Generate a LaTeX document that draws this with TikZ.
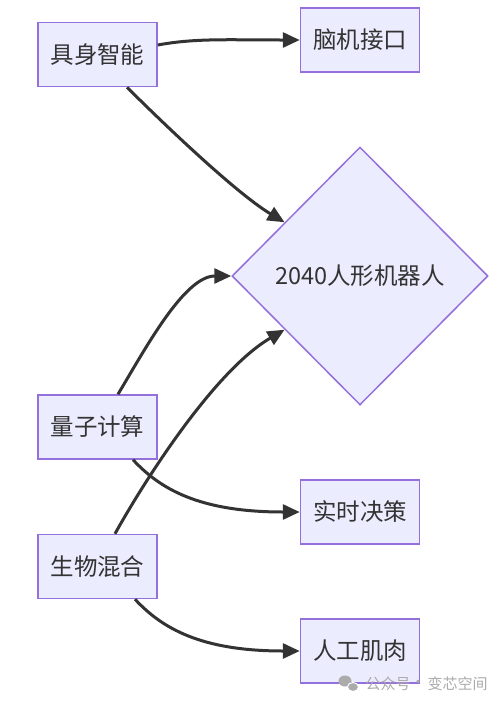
\documentclass[tikz,border=0pt]{standalone}
\usepackage{fontspec}
\setmainfont{Noto Sans CJK SC}
\usetikzlibrary{arrows.meta,shapes.geometric,calc}
\definecolor{nodefill}{HTML}{ECECFF}
\definecolor{nodeline}{HTML}{9370DB}
\definecolor{ink}{HTML}{333333}
\definecolor{wm}{HTML}{ABABAB}
\begin{document}
\begin{tikzpicture}[x=1pt,y=-1pt,
  box/.style={draw=nodeline,fill=nodefill,line width=1.5pt,minimum width=119pt,minimum height=64pt,inner sep=0pt,text=ink,font=\fontsize{23.5}{28}\selectfont},
  decision/.style={shape=diamond,draw=nodeline,fill=nodefill,line width=1.5pt,minimum width=256pt,minimum height=258pt,inner sep=0pt,text=ink,font=\fontsize{23.5}{28}\selectfont},
  link/.style={draw=ink,line width=3pt,-{Triangle[length=17pt,width=15pt]}},
  wmtext/.style={text=wm,inner sep=0pt,font=\fontsize{15}{18}\selectfont}]
\useasboundingbox[fill=white] (0,0) rectangle (503,705);
\node[box] (A) at (97.5,54.5) {具身智能};
\node[box] (B) at (360,40) {脑机接口};
\node[decision] (C) at (360,276) {2040人形机器人};
\node[box] (D) at (97.5,427) {量子计算};
\node[box] (E) at (97.5,566.5) {生物混合};
\node[box] (F) at (360,512) {实时决策};
\node[box] (G) at (360,651) {人工肌肉};
\coordinate (Cul) at ($(C.west)!0.414!(C.north)$);
\coordinate (Cll) at ($(C.west)!0.414!(C.south)$);
\draw[link] ([yshift=9.5pt]A.east) .. controls +(38,-7) and +(-71,0) .. (B.west);
\draw[link] ([xshift=29.5pt]A.south) .. controls +(30,30) and +(-50,-30) .. (Cul);
\draw[link] ([xshift=20.5pt]D.north) .. controls +(27,-45) and +(-47,0) .. (C.west);
\draw[link] ([xshift=35.5pt]D.south) .. controls +(27,29) and +(-101,0) .. (F.west);
\draw[link] ([xshift=17.5pt]E.north) .. controls +(30,-54) and +(-70,41) .. (Cll);
\draw[link] ([xshift=37.5pt]E.south) .. controls +(27,29) and +(-99,0) .. (G.west);
% watermark
\fill[wm] (345,681) ellipse[x radius=6.5pt,y radius=5.5pt];
\draw[wm,fill=wm,draw=white,line width=1pt] (353,687) ellipse[x radius=5.5pt,y radius=4.5pt];
\node[wmtext] (W1) at (388,684) {公众号};
\node[wmtext] (W2) at (418,684) {·};
\node[wmtext] (W3) at (457.5,684) {变芯空间};
\end{tikzpicture}
\end{document}
